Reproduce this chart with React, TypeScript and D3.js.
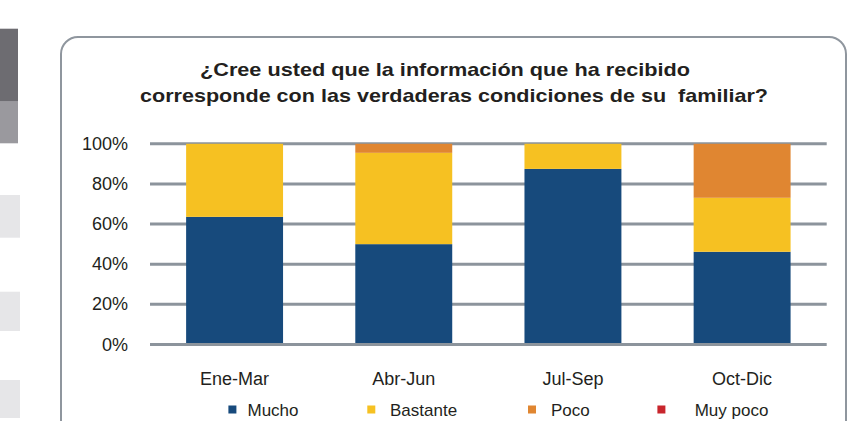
import React from "react";
import * as d3 from "d3";

const categories = ["Ene-Mar", "Abr-Jun", "Jul-Sep", "Oct-Dic"];
const seriesNames = ["Mucho", "Bastante", "Poco", "Muy poco"];
const mucho = [63.6, 50, 87.5, 46.2];
const bastante = [36.4, 45.5, 12.5, 26.9];
const poco = [0, 4.5, 0, 26.9];
const muyPoco = [0, 0, 0, 0];
const yTicks = [0, 20, 40, 60, 80, 100];
const titleLines = [
  "¿Cree usted que la información que ha recibido",
  "corresponde con las verdaderas condiciones de su  familiar?",
];

const colors = ["#174a7c", "#f6c122", "#e08631", "#c8252c"];
const font = "'Liberation Sans', Arial, sans-serif";

export default function App() {
  const W = 849;
  const H = 421;
  const rows = categories.map((c, i) => ({
    cat: c,
    Mucho: mucho[i],
    Bastante: bastante[i],
    Poco: poco[i],
    "Muy poco": muyPoco[i],
  }));
  const stack = d3.stack<any>().keys(seriesNames)(rows);

  const x = d3
    .scaleBand<string>()
    .domain(categories)
    .range([150, 826.7])
    .paddingInner(0.427)
    .paddingOuter(0.2135);
  const y = d3.scaleLinear().domain([0, 100]).range([344.5, 143.8]);

  const legendSquares = [228.4, 367.3, 528, 657.4];
  const legendTexts = [247.5, 390, 551, 694.7];

  return (
    <svg
      width={W}
      height={H}
      style={{ position: "absolute", left: 0, top: 0, background: "#fff" }}
    >
      {/* left decorations */}
      <rect x={0} y={28.7} width={18} height={73} fill="#6d6c71" />
      <rect x={0} y={101.7} width={18} height={41.6} fill="#9a999e" />
      <rect x={0} y={195} width={20} height={42.7} fill="#e6e6e8" />
      <rect x={0} y={291.7} width={20} height={39.3} fill="#e6e6e8" />
      <rect x={0} y={380} width={20} height={38} fill="#e6e6e8" />

      {/* frame */}
      <rect
        x={61}
        y={37}
        width={785}
        height={420}
        rx={17}
        ry={17}
        fill="#fff"
        stroke="#8f969e"
        strokeWidth={2}
      />

      {/* title */}
      {titleLines.map((t, i) => (
        <text
          key={i}
          x={i === 0 ? 445 : 454}
          y={i === 0 ? 76 : 102}
          textAnchor="middle"
          fontFamily={font}
          fontWeight="bold"
          fontSize={19}
          fill="#231f20"
          textLength={i === 0 ? 490 : 628}
          lengthAdjust="spacingAndGlyphs"
          style={{ whiteSpace: "pre" }}
        >
          {t}
        </text>
      ))}

      {/* gridlines */}
      {yTicks
        .filter((t) => t !== 0)
        .map((t) => (
          <line
            key={t}
            x1={150}
            x2={826.7}
            y1={y(t)}
            y2={y(t)}
            stroke="#8c949c"
            strokeWidth={3}
          />
        ))}

      {/* bars */}
      {stack.map((s, si) =>
        s.map((d, i) =>
          d[1] - d[0] > 0 ? (
            <rect
              key={`${si}-${i}`}
              x={x(categories[i])}
              y={y(d[1])}
              width={x.bandwidth()}
              height={y(d[0]) - y(d[1])}
              fill={colors[si]}
            />
          ) : null
        )
      )}

      {/* zero axis line */}
      <line
        x1={150}
        x2={826.7}
        y1={y(0)}
        y2={y(0)}
        stroke="#8c949c"
        strokeWidth={3}
      />

      {/* y tick labels */}
      {yTicks.map((t) => (
        <text
          key={t}
          x={128}
          y={y(t) + 6}
          textAnchor="end"
          fontFamily={font}
          fontSize={18}
          fill="#231f20"
        >
          {`${t}%`}
        </text>
      ))}

      {/* x labels */}
      {categories.map((c) => (
        <text
          key={c}
          x={(x(c) as number) + x.bandwidth() / 2}
          y={385}
          textAnchor="middle"
          fontFamily={font}
          fontSize={18}
          fill="#231f20"
        >
          {c}
        </text>
      ))}

      {/* legend */}
      {seriesNames.map((n, i) => (
        <g key={n}>
          <rect
            x={legendSquares[i]}
            y={405.5}
            width={8}
            height={8}
            fill={colors[i]}
          />
          <text
            x={legendTexts[i]}
            y={416}
            fontFamily={font}
            fontSize={17}
            fill="#231f20"
          >
            {n}
          </text>
        </g>
      ))}
    </svg>
  );
}
